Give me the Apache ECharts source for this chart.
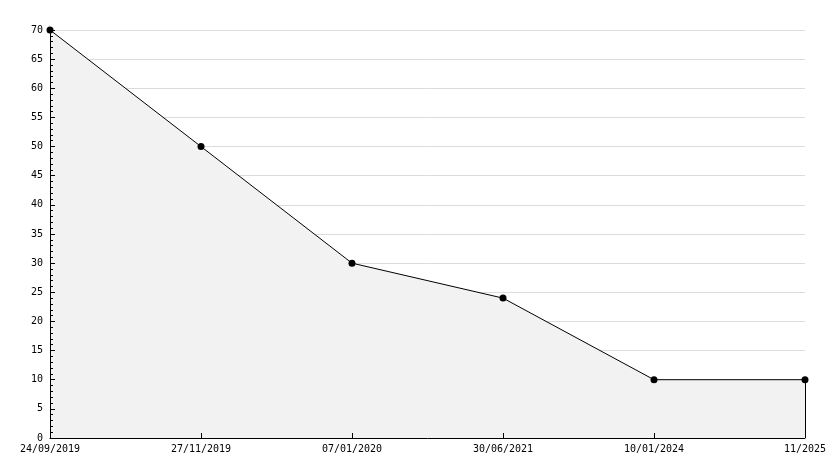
<!DOCTYPE html>
<html>
<head>
<meta charset="utf-8">
<script src="https://cdn.jsdelivr.net/npm/echarts@6/dist/echarts.min.js"></script>
<style>
  html, body { margin: 0; padding: 0; background: #fff; }
  #chart { width: 834px; height: 468px; }
</style>
</head>
<body>
<div id="chart"></div>
<script>
  // data
  const dates = ['24/09/2019', '27/11/2019', '07/01/2020', '30/06/2021', '10/01/2024', '11/2025'];
  const values = [70, 50, 30, 24, 10, 10];

  const font = 'DejaVu Sans Mono';
  const lastIdx = dates.length - 1;

  const myChart = echarts.init(document.getElementById('chart'), null, { renderer: 'canvas' });
  myChart.setOption({
    backgroundColor: '#ffffff',
    animation: false,
    grid: { left: 50, right: 29, top: 30, bottom: 30 },
    xAxis: {
      type: 'category',
      boundaryGap: false,
      data: dates,
      z: 5, // ticks sit inside, over the filled area
      axisLine: { lineStyle: { color: '#000', width: 1 } },
      axisTick: { inside: true, length: 5, alignWithLabel: true, lineStyle: { color: '#000' } },
      axisLabel: { color: '#000', fontFamily: font, fontSize: 10, margin: 6, interval: 0 },
      splitLine: { show: false }
    },
    yAxis: [
      {
        // grid lines only, kept under the area
        type: 'value',
        min: 0,
        max: 70,
        interval: 5,
        axisLine: { show: false },
        axisTick: { show: false },
        axisLabel: { show: false },
        splitLine: { show: true, lineStyle: { color: '#dcdcdc', width: 1 } }
      },
      {
        // the visible axis, drawn on top
        type: 'value',
        position: 'left',
        min: 0,
        max: 70,
        interval: 5,
        z: 5,
        axisLine: { show: true, lineStyle: { color: '#000', width: 1 } },
        axisTick: { show: true, inside: true, length: 5, lineStyle: { color: '#000', width: 1 } },
        minorTick: { show: true, splitNumber: 5, length: 3, lineStyle: { color: '#000', width: 1 } },
        axisLabel: { color: '#000', fontFamily: font, fontSize: 10, margin: 7 },
        splitLine: { show: false }
      }
    ],
    series: [{
      type: 'line',
      data: values,
      symbol: 'circle',
      symbolSize: 7,
      showAllSymbol: true,
      itemStyle: { color: '#000' },
      lineStyle: { color: '#000', width: 1 },
      areaStyle: { color: '#f2f2f2', opacity: 1 },
      markLine: {
        silent: true,
        symbol: 'none',
        label: { show: false },
        lineStyle: { color: '#000', width: 1, type: 'solid' },
        data: [[
          { coord: [dates[lastIdx], 0] },
          { coord: [dates[lastIdx], values[lastIdx]] }
        ]]
      }
    }]
  });
</script>
</body>
</html>
